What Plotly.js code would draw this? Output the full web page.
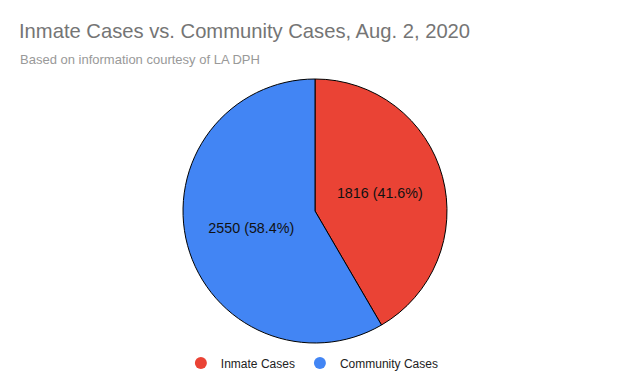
<!DOCTYPE html>
<html><head><meta charset="utf-8">
<script src="https://cdn.plot.ly/plotly-3.0.1.min.js"></script>
<style>html,body{margin:0;padding:0;background:#fff}#chart{width:630px;height:389px}</style>
</head><body><div id="chart"></div>
<script>
const categories = ["Inmate Cases", "Community Cases"];
const values = [1816, 2550];
const colors = ["#EA4335", "#4285F4"];
const titleText = "Inmate Cases vs. Community Cases, Aug. 2, 2020";
const subtitleText = "Based on information courtesy of LA DPH";

const font = "Arial, 'Liberation Sans', sans-serif";
const traces = [{
  type: "pie",
  labels: categories,
  values: values,
  sort: false,
  direction: "clockwise",
  rotation: 0,
  marker: {colors: colors, line: {color: "#000", width: 1}},
  texttemplate: "%{value} (%{percent:.1%})",
  textposition: "inside",
  insidetextorientation: "horizontal",
  textfont: {family: font, size: 14.3, color: "#111"},
  hoverinfo: "label+value+percent",
  showlegend: false
}];
categories.forEach((c, i) => traces.push({
  type: "scatter", mode: "markers", x: [null], y: [null], name: c,
  marker: {color: colors[i], size: 12, symbol: "circle"},
  showlegend: true, hoverinfo: "skip"
}));

const layout = {
  width: 630, height: 389,
  margin: {l: 183, r: 183, t: 79, b: 46},
  paper_bgcolor: "#fff", plot_bgcolor: "rgba(0,0,0,0)",
  font: {family: font, color: "#222"},
  title: {text: titleText, font: {family: font, size: 20.2, color: "#757575"},
          xref: "container", x: 19/630, xanchor: "left",
          yref: "container", y: 1 - 31/389, yanchor: "middle"},
  annotations: [{text: subtitleText, xref: "paper", yref: "paper",
    x: (18 - 183)/264, xanchor: "left", y: (343 - 59)/264, yanchor: "middle",
    showarrow: false, font: {family: font, size: 13, color: "#999"}}],
  xaxis: {visible: false}, yaxis: {visible: false},
  showlegend: true,
  legend: {orientation: "h", xref: "paper", x: 0.49, xanchor: "center",
           yref: "container", y: 1 - 363/389, yanchor: "middle",
           font: {family: font, size: 12, color: "#222"}, itemclick: false}
};
Plotly.newPlot("chart", traces, layout, {displayModeBar: false, staticPlot: true});
</script></body></html>
